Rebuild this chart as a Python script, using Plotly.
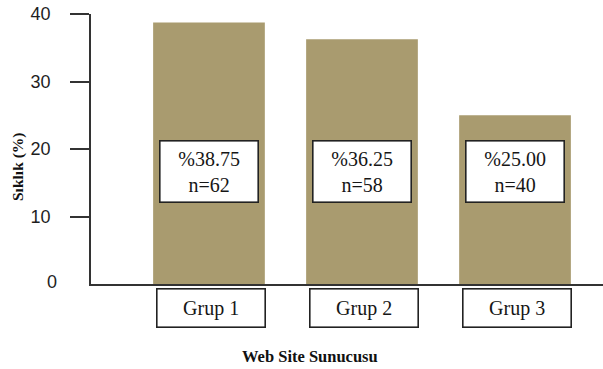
import plotly.graph_objects as go

# Data
groups = ["Grup 1", "Grup 2", "Grup 3"]
percent = [38.75, 36.25, 25.00]
counts = [62, 58, 40]
y_ticks = [10, 20, 30, 40]
y_zero = [0]

BAR_COLOR = "#A99B6F"
SERIF = "Liberation Serif, Times New Roman, serif"
SANS = "Liberation Sans, Arial, sans-serif"

xpos = list(range(len(groups)))

fig = go.Figure()
fig.add_trace(go.Bar(
    x=xpos, y=percent, width=0.73,
    marker=dict(color=BAR_COLOR, line=dict(width=0)),
    hoverinfo="skip",
))
# invisible trace that carries the separate zero-label axis
fig.add_trace(go.Scatter(x=[xpos[0]], y=[0], yaxis="y2", mode="markers",
                         marker=dict(opacity=0), hoverinfo="skip"))

# Value boxes inside bars
for xi, p, n in zip(xpos, percent, counts):
    fig.add_annotation(
        x=xi, xref="x", y=0.4167, yref="paper",
        xanchor="center", yanchor="middle",
        text=f"%{p:.2f}<br>n={n}", showarrow=False,
        font=dict(family=SERIF, size=20, color="#161616"),
        bgcolor="white", bordercolor="#222", borderwidth=1.6,
        width=95, height=58, borderpad=1, align="center",
    )

# Category boxes below the axis
for xi, g in zip(xpos, groups):
    fig.add_annotation(
        x=xi, xref="x", xshift=2, y=-0.0889, yref="paper",
        xanchor="center", yanchor="middle",
        text=g, showarrow=False,
        font=dict(family=SERIF, size=20, color="#161616"),
        bgcolor="white", bordercolor="#222", borderwidth=1.6,
        width=105, height=35, borderpad=1, align="center",
    )

# Axis titles
fig.add_annotation(
    x=0.4287, xref="paper", y=-0.27, yref="paper",
    xanchor="center", yanchor="middle",
    text="<b>Web Site Sunucusu</b>", showarrow=False,
    font=dict(family=SERIF, size=16.5, color="#111"),
)
fig.add_annotation(
    x=-0.1436, xref="paper", y=0.435, yref="paper",
    xanchor="center", yanchor="middle",
    text="<b>Sıklık (%)</b>", showarrow=False, textangle=-90,
    font=dict(family=SERIF, size=15.5, color="#111"),
)

tickfont = dict(family=SANS, size=18, color="#1e1e1e")

fig.update_layout(
    width=603, height=369,
    margin=dict(l=91, r=0, t=14, b=85),
    plot_bgcolor="white", paper_bgcolor="white",
    showlegend=False,
    xaxis=dict(
        range=[-0.771, 2.575], showticklabels=False, ticks="",
        showgrid=False, zeroline=False,
        showline=True, linecolor="#333", linewidth=1.5,
    ),
    yaxis=dict(
        range=[0, 40], tickvals=y_ticks,
        ticks="outside", ticklen=19, tickwidth=1.5, tickcolor="#333",
        ticklabelstandoff=16,
        tickfont=tickfont,
        showgrid=False, zeroline=False,
        showline=True, linecolor="#333", linewidth=1.5,
    ),
    yaxis2=dict(
        range=[-0.4, 39.6], tickvals=y_zero, overlaying="y", side="left",
        ticks="", ticklabelstandoff=33, tickfont=tickfont,
        showgrid=False, zeroline=False, showline=False,
    ),
)

fig.write_html("out.html")
